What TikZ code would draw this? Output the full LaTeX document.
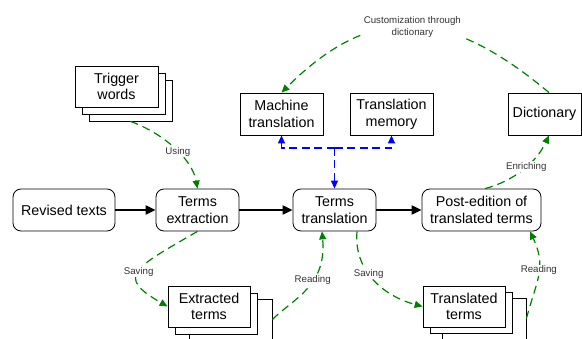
\documentclass[tikz,border=0pt]{standalone}
\usepackage{fontspec}
\setmainfont{Liberation Sans}
\usepackage{xcolor}
\usepackage{tikz}
\usetikzlibrary{arrows.meta}

\begin{document}
\begin{tikzpicture}[x=1pt,y=1pt,
    proc/.style={draw, line width=0.8pt, rounded corners=8pt, minimum height=42pt, align=center, inner sep=2pt,
        font=\fontsize{14.3}{16.7}\selectfont},
    store/.style={draw, line width=0.8pt, fill=white, minimum height=41pt, align=center, inner sep=2pt,
        font=\fontsize{14.3}{16.7}\selectfont},
    flow/.style={line width=2pt, -{Triangle[length=10pt,width=9pt]}},
    link/.style={draw=green!50!black, line width=1.2pt, dash pattern=on 8pt off 5pt,
        -{Triangle[length=8pt,width=7pt,fill=green!50!black]}},
    tool/.style={draw=blue, line width=1.4pt, dash pattern=on 8pt off 4.5pt,
        -{Triangle[length=8pt,width=7pt,fill=blue]}},
    tag/.style={fill=white, inner sep=1pt, align=center, text=black!80,
        font=\fontsize{9.7}{12.3}\selectfont}]
    \useasboundingbox (0,0) rectangle (582,338);
    \clip (0,0) rectangle (582,338);

    % main chain
    \node[proc, minimum width=102pt] (rev) at (64,128) {Revised texts};
    \node[proc, minimum width=83pt] (ext) at (197.5,128) {Terms\\extraction};
    \node[proc, minimum width=83pt] (trans) at (334.5,128) {Terms\\translation};
    \node[proc, minimum width=119pt] (post) at (481.5,128) {Post-edition of\\translated terms};
    \draw[flow] (rev) -- (ext);
    \draw[flow] (ext) -- (trans);
    \draw[flow] (trans) -- (post);

    % resources
    \node[store, minimum width=83pt, minimum height=42pt] (mt) at (281.5,224) {Machine\\translation};
    \node[store, minimum width=83pt, minimum height=42pt] (tm) at (391.5,224) {Translation\\memory};
    \node[store, minimum width=73pt, minimum height=42pt] (dict) at (544.5,224) {Dictionary};

    % stacked documents, back sheets first
    \node[store, minimum width=83pt] (trig3) at (130.5,237.5) {};
    \node[store, minimum width=83pt] (trig2) at (123.5,244.5) {};
    \node[store, minimum width=83pt] (trig) at (116.5,251.5) {Trigger\\words};
    \node[store, minimum width=83pt] (extr3) at (230.5,18.5) {};
    \node[store, minimum width=82pt] (extr2) at (216,24.5) {};
    \node[store, minimum width=82pt] (extr) at (209,31.5) {Extracted\\terms};
    \node[store, minimum width=84pt] (transl3) at (484,19.5) {};
    \node[store, minimum width=82pt] (transl2) at (471,25.5) {};
    \node[store, minimum width=82pt] (transl) at (464,31.5) {Translated\\terms};

    % tools feeding the translation step
    \coordinate (hub) at (334.5,190);
    \draw[tool] (hub) -- (trans);
    \draw[tool] (hub) -| (mt);
    \draw[tool] (hub) -| (tm);

    % data exchanges
    \draw[link] (trig3.south) .. controls +(-20:35) and +(100:30) ..
        node[tag, pos=0.55] {Using} (ext.north);
    \draw[link] (ext.south) .. controls +(-150:75) and +(150:60) ..
        node[tag, pos=0.5] {Saving} (extr.west);
    \draw[link] (extr3.east) .. controls +(45:30) and +(-85:55) ..
        node[tag, pos=0.6] {Reading} ([xshift=-12.5pt]trans.south);
    \draw[link] ([xshift=22.5pt]trans.south) .. controls +(-95:40) and +(165:40) ..
        node[tag, pos=0.42] {Saving} (transl.west);
    \draw[link] (transl3.east) .. controls +(75:40) and +(-65:40) ..
        node[tag, pos=0.55] {Reading} ([xshift=48.5pt]post.south);
    \draw[link] ([xshift=3.5pt]post.north) .. controls +(15:30) and +(-115:30) ..
        node[tag, pos=0.55] {Enriching} ([xshift=4.5pt]dict.south);
    \draw[link] ([xshift=4.5pt]dict.north) .. controls +(140:130) and +(45:130) ..
        node[tag, pos=0.5] {Customization through\\dictionary} (mt.north);
\end{tikzpicture}
\end{document}
